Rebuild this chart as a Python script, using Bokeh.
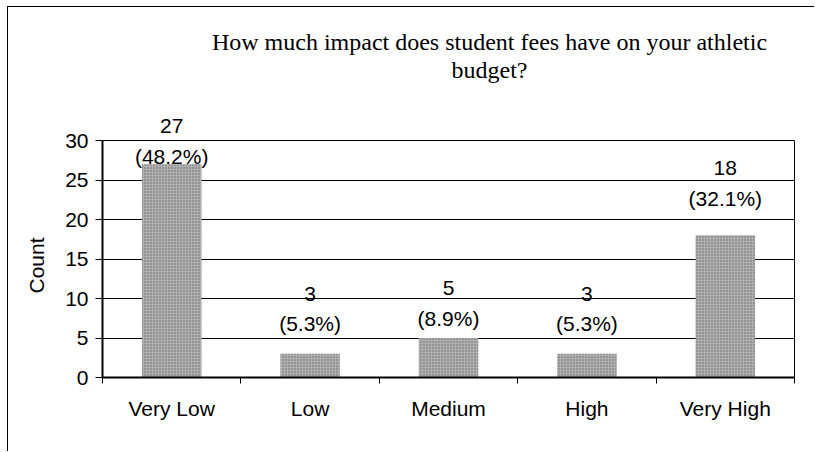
from bokeh.plotting import figure
from bokeh.models import FixedTicker, Label, LabelSet, ColumnDataSource, LinearAxis, Title
from bokeh.embed import file_html
from bokeh.resources import INLINE
from bokeh.core.properties import value

categories = ["Very Low", "Low", "Medium", "High", "Very High"]
counts = [27, 3, 5, 3, 18]
percents = ["(48.2%)", "(5.3%)", "(8.9%)", "(5.3%)", "(32.1%)"]
y_ticks = [0, 5, 10, 15, 20, 25, 30]
y_axis_max = 30
y_label = "Count"
title_lines = ["How much impact does student fees have on your athletic", "budget?"]

# label gaps (pixels) between bar top and percentage label centre (style)
pct_gap = [8, 30, 20, 30, 37]
line_gap = 30

# layout (pixels inside the figure)
FIG_W, FIG_H = 807, 445
AX_TOP_PX = 133      # where the value 30 sits, from the figure top
AX_BOTTOM_PX = 370   # where 0 sits
AX_RIGHT_PX = 786
y_top = y_axis_max * AX_BOTTOM_PX / (AX_BOTTOM_PX - AX_TOP_PX)

xs = [i + 0.5 for i in range(len(categories))]
src = ColumnDataSource(dict(
    x=xs, top=counts, cnt=[str(c) for c in counts], pct=percents,
    pct_off=list(pct_gap), cnt_off=[g + line_gap for g in pct_gap],
))

p = figure(width=FIG_W, height=FIG_H, output_backend="svg", toolbar_location=None,
           x_range=(0, len(categories)), y_range=(0, y_top),
           min_border_left=94, min_border_right=FIG_W - AX_RIGHT_PX, min_border_top=0,
           min_border_bottom=FIG_H - AX_BOTTOM_PX)
p.styles = {"border-left": "1px solid black", "border-top": "1px solid black",
            "margin-left": "7px", "margin-top": "6px"}
p.outline_line_color = None
p.background_fill_color = "white"
p.border_fill_color = "white"

p.vbar(x="x", top="top", width=0.43, bottom=0, source=src,
       fill_color="#b0b0b0", line_color=None,
       hatch_pattern="dot", hatch_color="#666666", hatch_scale=3, hatch_weight=1)

FS = "21px"
SANS = value("Liberation Sans")
for col, off in (("pct", "pct_off"), ("cnt", "cnt_off")):
    p.add_layout(LabelSet(x="x", y="top", text=col, y_offset=off, source=src,
                          text_align="center", text_baseline="middle",
                          text_font=SANS, text_font_size=FS,
                          text_color="black"))

# x axis: labels at category centres, tick marks at category boundaries
xa = p.xaxis[0]
xa.ticker = FixedTicker(ticks=xs, minor_ticks=list(range(len(categories) + 1)))
xa.major_label_overrides = {x: c for x, c in zip(xs, categories)}
xa.major_tick_out = 0
xa.major_tick_in = 0
xa.minor_tick_out = 6
xa.minor_tick_in = 0
xa.minor_tick_line_color = "black"
xa.axis_line_width = 2
xa.axis_line_color = "black"
xa.major_label_text_font = "Liberation Sans"
xa.major_label_text_font_size = FS
xa.major_label_text_color = "black"
xa.major_label_standoff = 13

ya = p.yaxis[0]
ya.ticker = FixedTicker(ticks=y_ticks)
ya.bounds = (0, y_axis_max)
ya.minor_tick_line_color = None
ya.major_tick_out = 7
ya.major_tick_in = 0
ya.major_tick_line_color = "black"
ya.axis_line_width = 2
ya.axis_line_color = "black"
ya.major_label_text_font = "Liberation Sans"
ya.major_label_text_font_size = FS
ya.major_label_text_color = "black"
ya.major_label_standoff = 7

# y axis title, centred on the 0-30 part of the axis
p.add_layout(Title(text=y_label, align="left", offset=84, vertical_align="top",
                   standoff=26, text_font="Liberation Sans", text_font_size=FS,
                   text_font_style="normal", text_color="black"), "left")

# right border of the plot area
ra = LinearAxis(ticker=FixedTicker(ticks=[]), bounds=(0, y_axis_max),
                axis_line_color="black", axis_line_width=1,
                major_tick_line_color=None, minor_tick_line_color=None,
                major_label_text_font_size="0px")
p.add_layout(ra, "right")

p.xgrid.grid_line_color = None
p.ygrid.grid_line_color = "black"
p.ygrid.grid_line_width = 1
p.ygrid.grid_line_alpha = 1

for i, line in enumerate(title_lines):
    p.add_layout(Label(x=387, y=336 - 28 * i, x_units="screen", y_units="screen",
                       text=line, text_align="center", text_baseline="middle",
                       text_font="Liberation Serif", text_font_size="24px",
                       text_color="black"))

open("out.html", "w").write(file_html(p, INLINE))
